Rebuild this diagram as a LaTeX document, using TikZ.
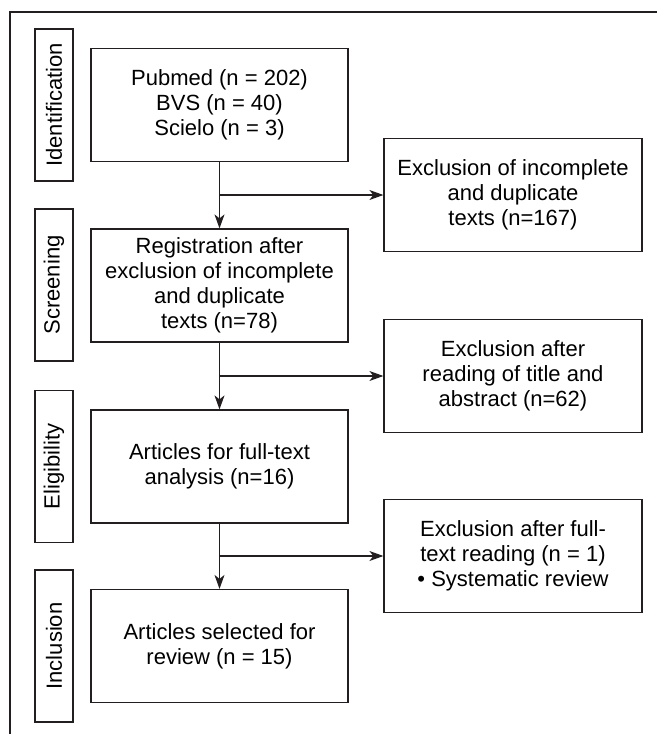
\documentclass[tikz,border=0pt]{standalone}
\usepackage{fontspec}
\setmainfont{Liberation Sans}
\usetikzlibrary{arrows.meta, positioning}
\definecolor{cline}{HTML}{231F20}
\tikzset{
  every picture/.style={font=\fontsize{11}{12.6}\selectfont, line width=0.6pt},
  box/.style={draw=cline, align=center, inner sep=3pt, minimum width=128.5pt, minimum height=56.5pt},
  stage/.style={draw=cline, rotate=90, minimum width=76pt, minimum height=19pt, inner sep=2pt},
  arrow/.style={-{Stealth[length=7pt, width=5pt, inset=2pt]}, draw=cline},
}

\begin{document}
\begin{tikzpicture}[x=0.5pt, y=-0.5pt]
  \useasboundingbox (0,0) rectangle (657,734);
  \draw[cline] (10,734) |- (657,12);
  % stages
  \node[stage] (ident) at (54,105) {Identification};
  \node[stage] (screen) at (54,285) {Screening};
  \node[stage] (elig) at (54,466.5) {Eligibility};
  \node[stage] (incl) at (54,646) {Inclusion};
  % main column
  \node[box] (found) at (219.5,105) {Pubmed (n = 202)\\BVS (n = 40)\\Scielo (n = 3)};
  \node[box] (regist) at (219.5,285.5) {Registration after\\exclusion of incomplete\\and duplicate\\texts (n=78)};
  \node[box] (fulltext) at (219.5,466.5) {Articles for full-text\\analysis (n=16)};
  \node[box] (selected) at (219.5,646) {Articles selected for\\review (n = 15)};
  % exclusions
  \node[box, minimum width=129pt] (exdup) at (513,195) {Exclusion of incomplete\\and duplicate\\texts (n=167)};
  \node[box, minimum width=129pt] (exabs) at (513,376) {Exclusion after\\reading of title and\\abstract (n=62)};
  \node[box, minimum width=129pt] (exfull) at (513,556) {Exclusion after full-\\text reading (n = 1)\\\textbullet{} Systematic review};
  % connectors
  \draw[arrow] (found) -- (regist);
  \draw[arrow] (regist) -- (fulltext);
  \draw[arrow] (fulltext) -- (selected);
  \coordinate (j1) at (found.south |- exdup.west);
  \coordinate (j2) at (regist.south |- exabs.west);
  \coordinate (j3) at (fulltext.south |- exfull.west);
  \draw[arrow] (j1) -- (exdup);
  \draw[arrow] (j2) -- (exabs);
  \draw[arrow] (j3) -- (exfull);
\end{tikzpicture}
\end{document}
